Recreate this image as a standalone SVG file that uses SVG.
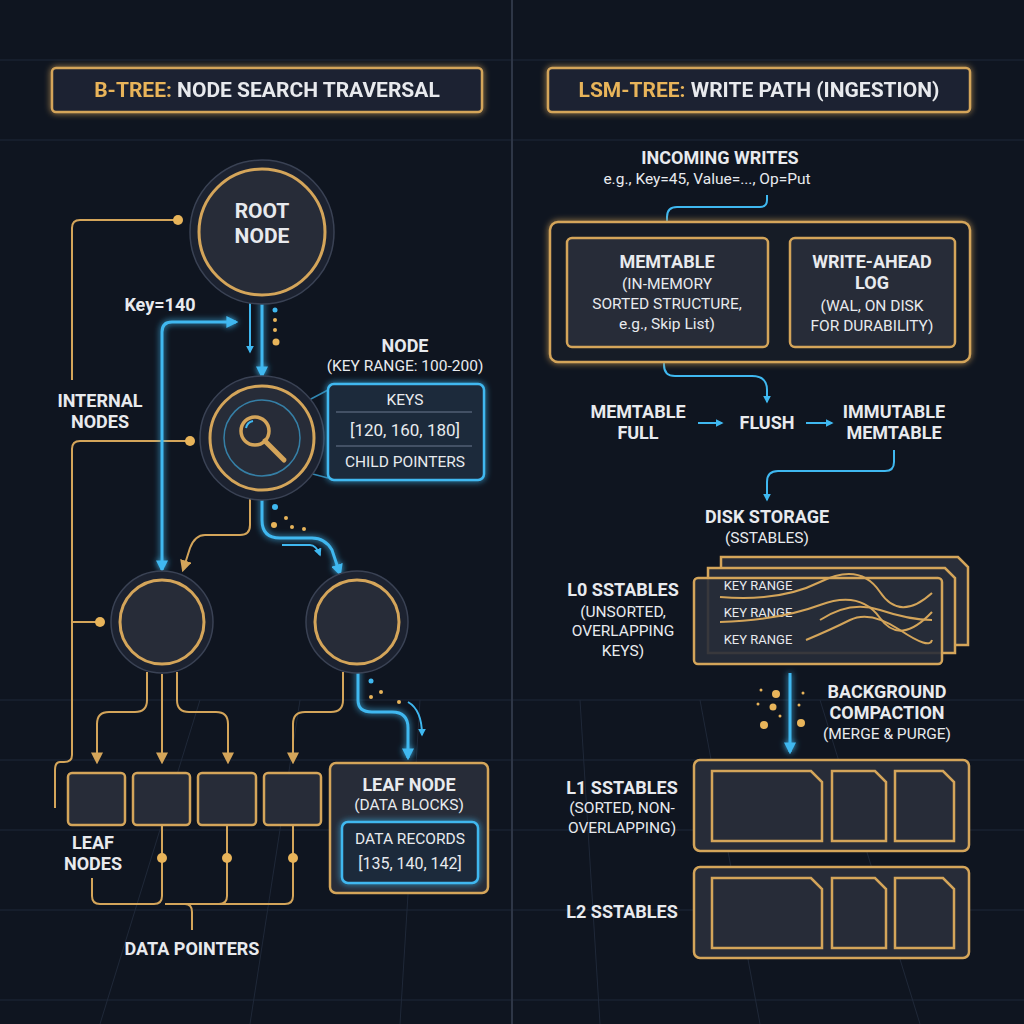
<svg xmlns="http://www.w3.org/2000/svg" width="1024" height="1024" viewBox="0 0 1024 1024">
<defs>
<style>
text{font-family:"Roboto","Liberation Sans",sans-serif;fill:#e8eaee;text-anchor:middle}
.b{font-weight:bold}
.t{font-size:18px}
.s{font-size:15.5px}
.g{fill:none;stroke:#d4a55a;stroke-width:2}
.bl{fill:none;stroke:#3fb8f0;stroke-width:3}
.blt{fill:none;stroke:#3fb8f0;stroke-width:2}
.nd{fill:#272c38;stroke:#d4a55a;stroke-width:3}
.ring{fill:#1c2230;stroke:#3a4254;stroke-width:1.5}
.box{fill:#272c38;stroke:#d4a55a;stroke-width:2.5}
.dot{fill:#e8b45a}
.grid{stroke:#1f2838;stroke-width:1}
</style>
<marker id="ab" viewBox="0 0 10 10" refX="8" refY="5" markerWidth="4" markerHeight="4" orient="auto-start-reverse"><path d="M0,0L10,5L0,10z" fill="#3fb8f0"/></marker>
<marker id="ag" viewBox="0 0 10 10" refX="8" refY="5" markerWidth="6" markerHeight="6" orient="auto"><path d="M0,0L10,5L0,10z" fill="#d4a55a"/></marker>
<filter id="glow" filterUnits="userSpaceOnUse" x="0" y="0" width="1024" height="1024"><feGaussianBlur stdDeviation="3" result="b"/><feMerge><feMergeNode in="b"/><feMergeNode in="SourceGraphic"/></feMerge></filter>
</defs>
<rect width="1024" height="1024" fill="#0f1520"/>
<g class="grid">
<path d="M0,700H1024M0,760H1024M0,830H1024M0,910H1024M0,1000H1024M0,140H1024M0,60H1024"/>
<path d="M100,1024L200,700M250,1024L300,700M400,1024L420,700M600,1024L580,700M760,1024L700,700M920,1024L820,700"/>
</g>
<line x1="512" y1="0" x2="512" y2="1024" stroke="#2e3646" stroke-width="2"/>
<g id="title-left" filter="url(#glow)">
<rect x="52" y="68" width="430" height="44" rx="4" fill="#1c2230" stroke="#d4a55a" stroke-width="2.5"/>
<text x="267" y="97" font-size="21" class="b"><tspan fill="#e8b45a">B-TREE:</tspan> NODE SEARCH TRAVERSAL</text>
</g>
<g id="title-right" filter="url(#glow)">
<rect x="548" y="68" width="422" height="44" rx="4" fill="#1c2230" stroke="#d4a55a" stroke-width="2.5"/>
<text x="759" y="97" font-size="21" class="b"><tspan fill="#e8b45a">LSM-TREE:</tspan> WRITE PATH (INGESTION)</text>
</g>

<g id="connectors">
<path class="g" d="M178,220H80Q72,220 72,228V380"/>
<path class="g" d="M190,441H80Q72,441 72,449V755Q72,762 64,762H60Q55,762 55,770V808"/>
<path class="g" d="M100,622H72"/>
<circle cx="178" cy="220" r="5" class="dot"/><circle cx="190" cy="441" r="5" class="dot"/><circle cx="100" cy="622" r="5" class="dot"/>
<g filter="url(#glow)">
<path class="bl" d="M262,292V376" marker-end="url(#ab)"/>
<path class="bl" d="M236,322H172Q162,322 162,332V570" marker-end="url(#ab)" marker-start="url(#ab)"/>
<path class="bl" d="M262,490V520Q262,538 280,538H312Q325,538 332,550L340,574" marker-end="url(#ab)"/>
<path class="bl" d="M358,668V700Q358,712 372,712H392Q408,712 408,728V758" marker-end="url(#ab)"/>
<path class="bl" d="M790,673V752" marker-end="url(#ab)"/>
</g>
<path class="blt" d="M250,303V352" marker-end="url(#ab)"/>
<path class="blt" d="M282,545H310Q316,545 320,555" marker-end="url(#ab)"/>
<path class="blt" d="M408,702Q422,710 422,735" marker-end="url(#ab)"/>
<circle cx="275" cy="310" r="2.5" fill="#3fb8f0"/><circle cx="275" cy="320" r="2" class="dot"/><circle cx="275" cy="330" r="2" class="dot"/><circle cx="276" cy="342" r="3.5" class="dot"/>
<circle cx="275" cy="507" r="3" fill="#3fb8f0"/><circle cx="286" cy="518" r="2" class="dot"/><circle cx="274" cy="525" r="3" class="dot"/><circle cx="292" cy="527" r="2" class="dot"/><circle cx="304" cy="529" r="2" class="dot"/>
<circle cx="371" cy="681" r="2.5" fill="#3fb8f0"/><circle cx="381" cy="692" r="2" class="dot"/><circle cx="371" cy="697" r="2" class="dot"/><circle cx="399" cy="702" r="2" class="dot"/>
<path class="g" d="M250,495V525Q250,535 240,535H205Q195,535 190,548L183,570" marker-end="url(#ag)"/>
<path class="g" d="M147,672V700Q147,712 135,712H109Q97,712 97,724V762" marker-end="url(#ag)"/>
<path class="g" d="M162,674V762" marker-end="url(#ag)"/>
<path class="g" d="M177,672V700Q177,712 189,712H216Q228,712 228,724V762" marker-end="url(#ag)"/>
<path class="g" d="M343,672V700Q343,712 331,712H305Q293,712 293,724V762" marker-end="url(#ag)"/>
<path class="g" d="M162,825V896Q162,904 154,904H100Q92,904 92,896V878"/>
<path class="g" d="M227,825V896Q227,904 219,904M293,825V896Q293,904 285,904H165"/>
<path class="g" d="M185,904Q192,904 192,912V930"/>
<circle cx="162" cy="858" r="5" class="dot"/><circle cx="227" cy="858" r="5" class="dot"/><circle cx="293" cy="858" r="5" class="dot"/>
<path class="blt" d="M767,195V200Q767,207 760,207H677Q667,207 667,217V234" marker-end="url(#ab)"/>
<path class="blt" d="M664,347V365Q664,376 675,376H752Q767,376 767,390V402" marker-end="url(#ab)"/>
<path class="blt" d="M698,423H722" marker-end="url(#ab)"/>
<path class="blt" d="M806,423H832" marker-end="url(#ab)"/>
<path class="blt" d="M894,450V462Q894,471 885,471H778Q767,471 767,482V500" marker-end="url(#ab)"/>
<g class="dot"><circle cx="776" cy="694" r="4"/><circle cx="773" cy="707" r="3.5"/><circle cx="764" cy="725" r="4"/><circle cx="801" cy="723" r="4"/><circle cx="761" cy="690" r="1.5"/><circle cx="758" cy="704" r="1.5"/><circle cx="803" cy="693" r="1.5"/><circle cx="799" cy="705" r="1.5"/><circle cx="780" cy="716" r="1.5"/></g>
</g>

<g id="root-node">
<circle cx="262" cy="232" r="72" class="ring"/>
<circle cx="262" cy="232" r="63" class="nd"/>
<text x="262" y="218" font-size="21" class="b">ROOT</text>
<text x="262" y="243" font-size="21" class="b">NODE</text>
</g>
<text x="160" y="311" class="b t">Key=140</text>

<g id="search-node">
<path d="M290,410L328,390M290,468L328,478" stroke="#3fb8f0" stroke-width="1.5" opacity="0.7"/>
<circle cx="262" cy="438" r="62" class="ring"/>
<circle cx="262" cy="438" r="52" class="nd"/>
<circle cx="262" cy="438" r="38" fill="none" stroke="#3fb8f0" stroke-width="1.5" opacity="0.6"/>
<circle cx="255" cy="431" r="14" fill="none" stroke="#d4a55a" stroke-width="3.5"/>
<path d="M265,441L284,460" stroke="#d4a55a" stroke-width="5" stroke-linecap="round"/>
<path d="M246,428a9,9 0 0 1 7,-7" stroke="#3fb8f0" stroke-width="2" fill="none"/>
<text x="405" y="352" class="b t">NODE</text>
<text x="405" y="371" class="s">(KEY RANGE: 100-200)</text>
<rect x="328" y="384" width="156" height="96" rx="6" fill="#1f2a3a" stroke="#3fb8f0" stroke-width="2.5" filter="url(#glow)"/>
<text x="405" y="405" class="s">KEYS</text>
<line x1="336" y1="412" x2="472" y2="412" stroke="#6a7890"/>
<text x="405" y="436" font-size="17">[120, 160, 180]</text>
<line x1="336" y1="446" x2="472" y2="446" stroke="#6a7890"/>
<text x="405" y="467" class="s">CHILD POINTERS</text>
</g>
<text x="100" y="407" class="b t">INTERNAL</text>
<text x="100" y="428" class="b t">NODES</text>

<g id="internal-left"><circle cx="162" cy="622" r="51" class="ring"/><circle cx="162" cy="622" r="42" class="nd"/></g>
<g id="internal-right"><circle cx="357" cy="622" r="51" class="ring"/><circle cx="357" cy="622" r="42" class="nd"/></g>

<g id="leaf-1"><rect x="68" y="773" width="57" height="52" rx="4" class="box"/></g>
<g id="leaf-2"><rect x="133" y="773" width="57" height="52" rx="4" class="box"/></g>
<g id="leaf-3"><rect x="198" y="773" width="58" height="52" rx="4" class="box"/></g>
<g id="leaf-4"><rect x="264" y="773" width="57" height="52" rx="4" class="box"/></g>
<text x="93" y="849" class="b t">LEAF</text>
<text x="93" y="870" class="b t">NODES</text>
<text x="192" y="955" class="b t">DATA POINTERS</text>

<g id="leaf-node">
<rect x="330" y="763" width="158" height="130" rx="6" class="box"/>
<text x="409" y="791" class="b t">LEAF NODE</text>
<text x="409" y="810" class="s">(DATA BLOCKS)</text>
<rect x="342" y="822" width="136" height="61" rx="6" fill="#1f2a3a" stroke="#3fb8f0" stroke-width="2.5" filter="url(#glow)"/>
<text x="410" y="844" class="s">DATA RECORDS</text>
<text x="410" y="869" font-size="16">[135, 140, 142]</text>
</g>

<text x="720" y="164" class="b t">INCOMING WRITES</text>
<text x="707" y="184" class="s">e.g., Key=45, Value=..., Op=Put</text>
<g id="memory">
<rect x="550" y="222" width="420" height="140" rx="8" fill="#161c28" stroke="#d4a55a" stroke-width="2.5" filter="url(#glow)"/>
<g id="memtable"><rect x="567" y="238" width="201" height="109" rx="5" class="box"/>
<text x="667" y="268" class="b t">MEMTABLE</text>
<text x="667" y="289" class="s">(IN-MEMORY</text>
<text x="667" y="309" class="s">SORTED STRUCTURE,</text>
<text x="667" y="329" class="s">e.g., Skip List)</text></g>
<g id="wal"><rect x="790" y="238" width="165" height="109" rx="5" class="box"/>
<text x="872" y="268" class="b t">WRITE-AHEAD</text>
<text x="872" y="289" class="b t">LOG</text>
<text x="872" y="311" class="s">(WAL, ON DISK</text>
<text x="872" y="331" class="s">FOR DURABILITY)</text></g>
</g>
<text x="638" y="418" class="b t">MEMTABLE</text>
<text x="638" y="439" class="b t">FULL</text>
<text x="767" y="429" class="b t">FLUSH</text>
<text x="894" y="418" class="b t">IMMUTABLE</text>
<text x="894" y="439" class="b t">MEMTABLE</text>
<text x="767" y="523" class="b t">DISK STORAGE</text>
<text x="767" y="543" class="s">(SSTABLES)</text>

<g id="l0">
<path d="M721,557H958L968,567V645H721Z" class="box"/>
<path d="M708,568H945L955,578V653H708Z" class="box"/>
<rect x="694" y="578" width="248" height="86" rx="4" class="box" fill-opacity="0.9"/>
<text x="758" y="590" font-size="13">KEY RANGE</text>
<text x="758" y="617" font-size="13">KEY RANGE</text>
<text x="758" y="644" font-size="13">KEY RANGE</text>
<path class="g" d="M720,597Q780,602 820,582T880,592T932,593"/>
<path class="g" d="M720,622Q780,620 820,605T880,618T932,612"/>
<path class="g" d="M820,620Q850,600 880,610T932,620"/>
<path class="g" d="M806,640Q830,630 850,620T900,630T932,640"/>
</g>
<text x="623" y="596" class="b t">L0 SSTABLES</text>
<text x="623" y="617" class="s">(UNSORTED,</text>
<text x="623" y="636" class="s">OVERLAPPING</text>
<text x="623" y="656" class="s">KEYS)</text>
<text x="887" y="698" class="b t">BACKGROUND</text>
<text x="887" y="719" class="b t">COMPACTION</text>
<text x="887" y="739" class="s">(MERGE &amp; PURGE)</text>

<g id="l1">
<rect x="694" y="760" width="275" height="91" rx="6" class="box"/>
<path d="M712,771H811L822,782V841H712Z" class="box"/>
<path d="M832,771H875L886,782V841H832Z" class="box"/>
<path d="M895,771H943L954,782V841H895Z" class="box"/>
</g>
<text x="622" y="794" class="b t">L1 SSTABLES</text>
<text x="622" y="813" class="s">(SORTED, NON-</text>
<text x="622" y="833" class="s">OVERLAPPING)</text>
<g id="l2">
<rect x="694" y="867" width="275" height="91" rx="6" class="box"/>
<path d="M712,878H811L822,889V948H712Z" class="box"/>
<path d="M832,878H875L886,889V948H832Z" class="box"/>
<path d="M895,878H943L954,889V948H895Z" class="box"/>
</g>
<text x="622" y="918" class="b t">L2 SSTABLES</text>
</svg>
